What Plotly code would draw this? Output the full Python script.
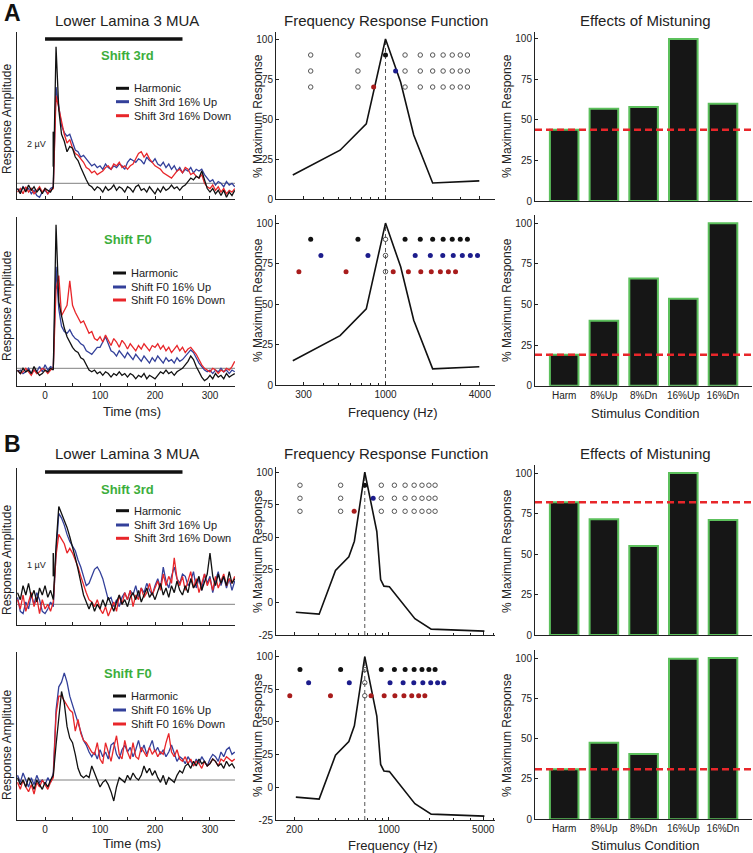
import math
import plotly.graph_objects as go

W, H = 753, 853
FONT = "Arial, Liberation Sans, Helvetica, sans-serif"
INK = "#222222"
BLACK, BLUE, RED = "#111111", "#33409a", "#e8262a"
GREEN = "#3cae3c"

# ---------------- data ----------------
time_ms = list(range(-50, 350, 5))
stim_window_ms = [0, 250]

A_shift3_harmonic = [-0.3,-0.6,-0.2,-0.5,-0.1,-0.4,-0.2,-0.5,-0.3,-0.6,
 -0.3,-0.4,-0.5,-0.2, 7.8, 4.2, 2.8, 2.4, 1.8, 2.1,
 2.0, 1.5, 1.3, 0.9, 0.5, 0.2,-0.1,-0.2,-0.4,-0.2,
 -0.3,-0.5,-0.2,-0.4,-0.3,-0.1,-0.4,-0.2,-0.3,-0.5,
 -0.2,-0.3,-0.5,-0.2,-0.1,-0.4,-0.3,-0.5,-0.2,-0.4,
 -0.6,-0.3,-0.5,-0.2,-0.4,-0.3,-0.1,-0.3,-0.2,-0.4,
 -0.2,-0.1, 0.1, 0.3, 0.2, 0.4, 0.3, 0.7, 0.2,-0.3,
 -0.5,-0.3,-0.6,-0.4,-0.7,-0.4,-0.8,-0.5,-0.7,-0.4]
A_shift3_up = [-0.3,-0.5,-0.2,-0.4,-0.3,-0.6,-0.4,-0.7,-0.8,-0.5,
 -0.4,-0.6,-0.3,-0.2, 5.5, 4.3, 3.3, 2.9, 2.7, 2.8,
 2.3, 1.9, 1.8, 1.5, 1.6, 1.4, 1.2, 1.0, 1.1, 0.9,
 1.0, 0.8, 1.1, 0.9, 0.8, 1.0, 0.9, 1.1, 1.0, 0.8,
 1.2, 1.4, 1.3, 1.2, 1.4, 1.3, 1.1, 1.5, 1.3, 1.2,
 1.4, 1.1, 1.0, 1.2, 0.9, 1.1, 0.8, 1.0, 0.7, 0.9,
 0.6, 0.8, 0.7, 0.9, 0.6, 0.8, 0.7, 0.8, 0.5, 0.3,
 0.1, 0.2,-0.1, 0.1, 0.0,-0.2, 0.1,-0.1, 0.0,-0.2]
A_shift3_down = [-0.5,-0.3,-0.6,-0.2,-0.5,-0.3,-0.6,-0.4,-0.2,-0.5,
 -0.3,-0.6,-0.4,-0.3, 5.0, 4.3, 3.6, 2.8, 2.3, 2.5,
 2.0, 1.7, 1.6, 1.4, 1.2, 0.9, 0.8, 0.6, 0.7, 0.5,
 0.6, 0.7, 0.9, 1.0, 0.8, 1.1, 1.0, 1.2, 0.9, 1.0,
 0.8, 1.0, 1.1, 1.4, 1.7, 1.8, 1.5, 1.7, 1.4, 1.2,
 1.0, 0.9, 0.8, 0.6, 0.5, 0.4, 0.3, 0.5, 0.7, 0.8,
 0.6, 0.9, 0.8, 0.5, 0.6, 0.4, 0.3, 0.5, 0.0,-0.2,
 -0.3,-0.1,-0.4,-0.2,-0.5,-0.3,-0.6,-0.4,-0.5,-0.3]

A_shiftF0_harmonic = [-0.1,-0.3, 0.0,-0.2,-0.1,-0.3, 0.1,-0.2,-0.4,-0.3,
 -0.1,-0.2, 0.0,-0.1, 8.2, 3.8, 3.0, 2.3, 1.8, 1.5,
 1.2, 1.0, 0.9, 0.6, 0.5, 0.2,-0.1,-0.2,-0.1,-0.3,
 -0.2,-0.4,-0.2,-0.3,-0.5,-0.3,-0.4,-0.2,-0.4,-0.3,
 -0.5,-0.3,-0.4,-0.6,-0.4,-0.5,-0.3,-0.6,-0.4,-0.5,
 -0.6,-0.4,-0.2,-0.3,-0.1,-0.3,-0.2,-0.4,-0.2,-0.1,
 0.0, 0.2, 0.4, 0.7, 0.5, 0.1,-0.2,-0.5,-0.7,-0.6,
 -0.4,-0.6,-0.3,-0.5,-0.4,-0.6,-0.3,-0.5,-0.4,-0.3]
A_shiftF0_up = [-0.2,-0.1,-0.3,-0.2, 0.0,-0.3,-0.1,-0.2, 0.1,-0.2,
 0.2,-0.1, 0.1, 0.0, 5.8, 3.4, 2.4, 2.1, 2.0, 2.2,
 1.9, 1.7, 1.6, 1.4, 1.3, 1.0, 0.9, 0.8, 1.0, 1.2,
 1.2, 1.5, 1.8, 1.4, 1.0, 0.9, 0.7, 1.0, 0.8, 0.6,
 0.9, 0.7, 0.5, 0.8, 0.6, 0.4, 0.7, 0.5, 0.3, 0.6,
 0.4, 0.7, 0.5, 0.3, 0.6, 0.4, 0.5, 0.3, 0.6, 0.4,
 0.5, 0.7, 0.9, 1.05, 0.9, 0.6, 0.3, 0.1,-0.1,-0.2,
 -0.1,-0.3,-0.1,-0.2, 0.0,-0.2,-0.1,-0.3,-0.1,-0.2]
A_shiftF0_down = [-0.1,-0.3,-0.2, 0.0,-0.2,-0.4,-0.1,-0.3,-0.2, 0.0,
 -0.1,-0.3,-0.1, 0.0, 4.5, 5.3, 3.0, 3.3, 3.6, 5.0,
 3.6, 3.2, 2.9, 2.6, 2.7, 2.3, 2.0, 2.1, 1.7, 1.6,
 1.8, 1.5, 1.9, 1.6, 1.3, 1.7, 1.5, 1.2, 1.6, 1.4,
 1.1, 1.4, 1.2, 1.0, 1.3, 1.1, 1.4, 1.2, 1.0, 1.3,
 1.2, 1.4, 1.1, 1.3, 1.0, 1.2, 0.9, 1.1, 1.3, 1.0,
 1.2, 0.9, 1.1, 1.2, 1.0, 0.8, 0.5, 0.2, 0.0,-0.1,
 -0.2, 0.0,-0.1,-0.3,-0.1,-0.2, 0.0,-0.1, 0.1, 0.4]

B_shift3_harmonic = [0.5, 0.2, 0.8, 0.4, 0.9, 0.3, 0.6, 0.1, 0.7, 0.4,
 0.8, 0.3, 0.6, 0.2, 2.5, 4.2, 3.9, 3.6, 3.3, 2.9,
 2.5, 2.0, 1.5, 0.9, 0.4, 0.1,-0.2, 0.1,-0.3, 0.0,
 -0.2, 0.2,-0.1, 0.3, 0.0,-0.3, 0.1, 0.4, 0.0, 0.2,
 -0.1, 0.3, 0.5, 0.2, 0.6, 0.1, 0.4, 0.7, 0.3, 0.5,
 0.2, 0.6, 0.9, 0.4, 0.7, 0.3, 0.8, 0.5, 1.0, 0.6,
 0.4, 0.8, 0.5, 1.1, 0.7, 0.9, 1.2, 0.6, 1.0, 1.3,
 2.2, 1.2, 0.8, 1.3, 0.9, 1.2, 0.8, 1.4, 0.9, 1.1]
B_shift3_up = [0.3,-0.3,-0.4, 0.1,-0.2, 0.4, 0.0, 0.5, 0.2,-0.3,
 -0.4,-0.2, 0.1,-0.1, 2.2, 3.9, 3.7, 3.4, 3.0, 2.7,
 2.5, 2.3, 1.9, 1.6, 1.2, 0.8, 0.9, 1.2, 1.5, 1.6,
 1.4, 1.1, 0.6, 0.2, 0.3,-0.1, 0.2,-0.1, 0.3, 0.5,
 0.2, 0.6, 0.4, 0.8, 0.3, 0.7, 0.5, 0.9, 0.6, 0.4,
 0.8, 1.1, 0.7, 1.6, 1.0, 0.7, 1.2, 1.6, 1.1, 0.9,
 1.3, 1.2, 0.8, 1.0, 1.4, 0.7, 1.1, 0.6, 1.3, 0.9,
 1.2, 0.5, 1.0, 1.4, 0.8, 1.2, 0.7, 1.1, 0.6, 1.0]
B_shift3_down = [0.2,-0.2, 0.4,-0.3, 0.1, 0.5,-0.1, 0.3,-0.4, 0.2,
 -0.2, 0.0,-0.3, 0.1, 2.1, 3.0, 2.8, 2.6, 2.2, 2.4,
 2.2, 1.9, 1.6, 1.2, 0.8, 0.5, 0.2, 0.1,-0.1, 0.2,
 -0.2,-0.4,-0.1,-0.5,-0.2, 0.1,-0.3, 0.4, 0.0, 0.5,
 0.2, 0.6,-0.1, 0.4, 0.2, 0.7, 0.3, 0.5, 0.9, 0.4,
 0.7, 1.0, 0.6, 1.3, 0.8, 1.2, 0.9, 2.0, 1.1, 0.8,
 1.2, 0.6, 1.0, 1.4, 0.7, 1.1, 0.5, 0.9, 1.3, 0.8,
 1.1, 0.6, 1.2, 0.7, 1.0, 1.3, 0.8, 1.1, 0.9, 1.2]

B_shiftF0_harmonic = [0.1,-0.2, 0.0,-0.3, 0.1,-0.1,-0.4, 0.0,-0.2,-0.4,
 -0.1,-0.3, 0.0, 0.2, 1.5, 2.8, 3.8, 3.3, 2.3, 1.8,
 1.6, 1.1, 0.5, 0.2, 0.1, 0.2, 0.1, 0.6, 0.3, 0.0,
 -0.3,-0.1, 0.0,-0.2,-0.5,-0.9,-0.3, 0.1, 0.0,-0.1,
 0.2, 0.0, 0.3, 0.1, 0.0, 0.2, 0.6, 0.3, 0.5, 0.2,
 0.4, 0.1,-0.1, 0.2,-0.2, 0.1, 0.0,-0.1, 0.2, 0.4,
 0.3, 0.6, 0.7, 0.5, 0.8, 0.6, 0.9, 0.7, 0.8, 0.6,
 0.7, 0.9, 0.8, 0.6, 0.7, 0.5, 0.8, 0.6, 0.7, 0.5]
B_shiftF0_up = [0.2,-0.1, 0.3, 0.0,-0.3, 0.1,-0.2, 0.2,-0.1, 0.0,
 -0.2, 0.1,-0.1, 0.3, 3.0, 4.0, 4.2, 4.6, 4.2, 3.6,
 3.2, 2.9, 2.5, 2.1, 1.7, 1.5, 1.2, 1.0, 1.2, 0.9,
 1.3, 1.0, 1.2, 0.9, 1.5, 1.6, 1.1, 0.9, 1.3, 1.5,
 1.2, 1.4, 1.0, 1.3, 1.7, 1.2, 1.5, 1.1, 1.4, 1.7,
 1.2, 1.4, 1.1, 1.3, 1.0, 1.2, 1.5, 1.1, 0.8, 1.0,
 0.9, 0.7, 1.0, 0.8, 0.6, 0.9, 0.7, 1.0, 0.8, 0.6,
 0.9, 1.1, 1.0, 0.8, 1.2, 1.0, 1.3, 1.4, 1.1, 1.2]
B_shiftF0_down = [-0.1,-0.4, 0.0,-0.3,-0.5,-0.2,-0.6,-0.1,-0.3, 0.0,
 -0.2,-0.4,-0.1, 0.1, 2.8, 3.6, 3.6, 3.4, 3.2, 3.0,
 2.9, 2.1, 2.6, 2.0, 1.7, 1.6, 1.4, 1.2, 1.1, 1.6,
 0.9, 0.7, 1.6, 1.2, 0.8, 1.4, 1.9, 1.1, 0.9, 1.7,
 1.2, 0.9, 1.6, 1.0, 0.9, 1.4, 1.2, 1.0, 1.4, 1.1,
 1.3, 1.0, 1.2, 1.1, 1.6, 2.0, 1.2, 1.0, 1.3, 0.9,
 0.8, 1.0, 0.7, 0.9, 0.6, 0.8, 0.7, 0.5, 0.8, 0.6,
 0.7, 0.9, 0.8, 0.6, 0.9, 0.8, 1.0, 0.9, 0.8, 0.9]

scale_bar_A_uv = [0.95, 2.95]   # 2 uV
scale_bar_B_uv = [1.2, 2.2]     # 1 uV
scale_bar_t_ms = 15

# frequency response functions
frf_A_freq_hz = [256, 513, 754, 1000, 1250, 1514, 2000, 3970]
frf_A_resp = [15, 30.5, 47, 100, 73, 40, 10, 11.3]
frf_B_freq_hz = [205, 305, 403, 506, 556, 664, 815, 870, 920, 1010, 1560, 2060, 5100]
frf_B_resp = [-7.5, -9, 24.5, 35, 47, 100, 54.5, 17.5, 12.5, 12, -12.5, -20.5, -22]
bf_A_hz, bf_B_hz = 1000, 664

# stimulus components (harmonic complex, shifted 3rd, shifted F0)
harm_A_hz = [333, 667, 1000, 1333, 1667, 2000, 2333, 2667, 3000, 3333]
third_up_A_hz, third_down_A_hz = 1160, 840
f0_up_A_hz = [387, 773, 1547, 1933, 2320, 2707, 3093, 3480, 3867]
f0_down_A_hz = [280, 560, 1120, 1400, 1680, 1960, 2240, 2520, 2800]
harm_B_hz = [220, 440, 664, 880, 1100, 1320, 1540, 1760, 1980, 2200]
third_up_B_hz, third_down_B_hz = 766, 554
f0_up_B_hz = [255, 510, 1021, 1276, 1531, 1786, 2042, 2297, 2552]
f0_down_B_hz = [185, 370, 739, 924, 1109, 1294, 1478, 1663, 1848]
row_harm, row_up, row_down = 90, 80, 70

conditions = ["Harm", "8%Up", "8%Dn", "16%Up", "16%Dn"]
bars_A_3rd = [44, 57, 58, 100, 60]
bars_A_F0 = [19, 40, 66, 53.5, 100]
bars_B_3rd = [82, 71.5, 55, 100, 71]
bars_B_F0 = [31, 47.5, 40.5, 99.5, 100]

# ---------------- layout helpers ----------------
def px(x):
    return x / W

def py(y):
    return 1 - y / H

fig = go.Figure()
layout = dict(template="none", width=W, height=H, margin=dict(l=0, r=0, t=0, b=0, pad=0),
              paper_bgcolor="white", plot_bgcolor="rgba(0,0,0,0)",
              showlegend=False, font=dict(family=FONT, size=10, color=INK))
annotations, shapes = [], []

def axname(n, letter):
    return f"{letter}axis" + ("" if n == 1 else str(n))

def ref(n, letter):
    return letter + ("" if n == 1 else str(n))

def base_axis(x0, x1):
    return dict(domain=[px(x0), px(x1)], showline=True, linecolor=INK, linewidth=1,
                showgrid=False, zeroline=False, automargin=False, ticks="inside", ticklen=3,
                tickcolor=INK, tickwidth=1, tickfont=dict(size=10, color=INK, family=FONT))

def add_axes(n, xr, yr, xdict, ydict):
    xa = base_axis(*xr)
    xa.update(anchor=ref(n, "y"))
    xa.update(xdict)
    ya = base_axis(0, 1)
    ya["domain"] = [py(yr[1]), py(yr[0])]
    ya.update(anchor=ref(n, "x"))
    ya.update(ydict)
    layout[axname(n, "x")] = xa
    layout[axname(n, "y")] = ya

def ann(text, x, y, size=12, xanchor="center", angle=0, color=INK, bold=False):
    if bold:
        text = f"<b>{text}</b>"
    annotations.append(dict(text=text, x=px(x), y=py(y), xref="paper", yref="paper",
                            xanchor=xanchor, yanchor="middle", showarrow=False,
                            textangle=angle, font=dict(size=size, color=color, family=FONT)))

# ---------------- left column: MUA traces ----------------
tick_t = [0, 50, 100, 150, 200, 250, 300]
tick_t_text = ["0", "", "100", "", "200", "", "300"]
label_y = {1: 55, 2: 239, 7: 489, 8: 673}

def trace_panel(n, yr, yrange, series, bottom, label, legend_y, legend_x0, names,
                stim_y=None, scale=None):
    xd = dict(range=[-51, 345.5], tickvals=tick_t, ticktext=tick_t_text,
              showticklabels=bottom)
    yd = dict(range=yrange, ticks="", showticklabels=False)
    add_axes(n, (17, 235), yr, xd, yd)
    shapes.append(dict(type="line", xref=ref(n, "x") + " domain", yref=ref(n, "y"),
                       x0=0, x1=1, y0=0, y1=0, line=dict(color="#808080", width=1),
                       layer="below"))
    for ys, col in zip(series, [BLUE, RED, BLACK]):
        fig.add_trace(go.Scatter(x=time_ms, y=ys, mode="lines",
                                 line=dict(color=col, width=1.3),
                                 xaxis=ref(n, "x"), yaxis=ref(n, "y"),
                                 hoverinfo="skip"))
    ann(label, 128, label_y[n], size=13, color=GREEN, bold=True)
    for yy, col, nm in zip(legend_y, [BLACK, BLUE, RED], names):
        shapes.append(dict(type="line", xref="paper", yref="paper",
                           x0=px(legend_x0), x1=px(legend_x0 + 13), y0=py(yy), y1=py(yy),
                           line=dict(color=col, width=3)))
        ann(nm, legend_x0 + 16, yy, size=11, xanchor="left")
    if stim_y is not None:
        shapes.append(dict(type="line", xref=ref(n, "x"), yref="paper",
                           x0=stim_window_ms[0], x1=stim_window_ms[1],
                           y0=py(stim_y), y1=py(stim_y), line=dict(color=BLACK, width=3.5)))
    if scale is not None:
        vals, txt, ty = scale
        shapes.append(dict(type="line", xref=ref(n, "x"), yref=ref(n, "y"),
                           x0=scale_bar_t_ms, x1=scale_bar_t_ms, y0=vals[0], y1=vals[1],
                           line=dict(color=BLACK, width=1.5)))
        ann(txt, 48, ty, size=9, xanchor="right")

trace_panel(1, (32, 199), [-0.897, 8.646],
            [A_shift3_up, A_shift3_down, A_shift3_harmonic], False, "Shift 3rd",
            [88.3, 101.7, 115.7], 116, ["Harmonic", "Shift 3rd 16% Up", "Shift 3rd 16% Down"],
            stim_y=39, scale=(scale_bar_A_uv, "2 µV", 144))
trace_panel(2, (217, 386), [-1.011, 8.646],
            [A_shiftF0_up, A_shiftF0_down, A_shiftF0_harmonic], True, "Shift F0",
            [273, 287, 300], 113, ["Harmonic", "Shift F0 16% Up", "Shift F0 16% Down"])
trace_panel(7, (468, 625), [-0.888, 5.850],
            [B_shift3_up, B_shift3_down, B_shift3_harmonic], False, "Shift 3rd",
            [510.7, 525, 538.3], 116, ["Harmonic", "Shift 3rd 16% Up", "Shift 3rd 16% Down"],
            stim_y=472, scale=(scale_bar_B_uv, "1 µV", 565))
trace_panel(8, (652, 820), [-1.717, 5.494],
            [B_shiftF0_up, B_shiftF0_down, B_shiftF0_harmonic], True, "Shift F0",
            [696, 710, 724], 113, ["Harmonic", "Shift F0 16% Up", "Shift F0 16% Down"])

# ---------------- middle column: frequency response ----------------
def frf_panel(n, yr, yrange, yticks, xrange_log, xticks, minor, freq, resp, bf,
              rows, bottom):
    xd = dict(type="log", range=xrange_log, tickvals=xticks,
              ticktext=[str(v) for v in xticks], showticklabels=bottom,
              minor=dict(tickvals=minor, ticks="inside", ticklen=2, tickcolor=INK))
    yd = dict(range=yrange, tickvals=yticks, ticktext=[str(v) for v in yticks])
    add_axes(n, (276, 495), yr, xd, yd)
    fig.add_trace(go.Scatter(x=[bf, bf], y=[yrange[0], 100], mode="lines",
                             line=dict(color="#555555", width=1, dash="4px,3px"),
                             xaxis=ref(n, "x"), yaxis=ref(n, "y"), hoverinfo="skip"))
    fig.add_trace(go.Scatter(x=freq, y=resp, mode="lines",
                             line=dict(color=BLACK, width=1.6),
                             xaxis=ref(n, "x"), yaxis=ref(n, "y"), hoverinfo="skip"))
    for xs, yv, kind in rows:
        if kind == "open":
            mk = dict(symbol="circle-open", size=4.5, color="#555555", line=dict(width=1))
        else:
            mk = dict(symbol="circle", size=5, color=kind, line=dict(width=0))
        fig.add_trace(go.Scatter(x=xs, y=[yv] * len(xs), mode="markers", marker=mk,
                                 xaxis=ref(n, "x"), yaxis=ref(n, "y"), hoverinfo="skip"))

DK_BLUE, DK_RED = "#1c1c8c", "#a81c1c"
others_A = [f for f in harm_A_hz if f != bf_A_hz]
others_B = [f for f in harm_B_hz if f != bf_B_hz]
minor_A = [200, 400, 500, 600, 700, 800, 900, 2000, 3000, 5000]
minor_B = [300, 400, 500, 600, 700, 800, 900, 2000, 3000, 4000, 6000]
xr_A = [math.log10(200), math.log10(5000)]
xr_B = [2.165, 3.786]

frf_panel(3, (32, 199), [0, 104.4], [0, 25, 50, 75, 100], xr_A, [300, 1000, 4000], minor_A,
          frf_A_freq_hz, frf_A_resp, bf_A_hz,
          [(others_A, row_harm, "open"), ([bf_A_hz], row_harm, BLACK),
           (others_A, row_up, "open"), ([third_up_A_hz], row_up, DK_BLUE),
           (others_A, row_down, "open"), ([third_down_A_hz], row_down, DK_RED)], False)
frf_panel(4, (215, 385), [0, 105], [0, 25, 50, 75, 100], xr_A, [300, 1000, 4000], minor_A,
          frf_A_freq_hz, frf_A_resp, bf_A_hz,
          [(others_A, row_harm, BLACK), ([bf_A_hz], row_harm, "open"),
           (f0_up_A_hz, row_up, DK_BLUE), ([bf_A_hz], row_up, "open"),
           (f0_down_A_hz, row_down, DK_RED), ([bf_A_hz], row_down, "open")], True)
frf_panel(9, (467, 635), [-25, 104], [-25, 0, 25, 50, 75, 100], xr_B, [200, 1000, 5000], minor_B,
          frf_B_freq_hz, frf_B_resp, bf_B_hz,
          [(others_B, row_harm, "open"), ([bf_B_hz], row_harm, BLACK),
           (others_B, row_up, "open"), ([third_up_B_hz], row_up, DK_BLUE),
           (others_B, row_down, "open"), ([third_down_B_hz], row_down, DK_RED)], False)
frf_panel(10, (650, 820), [-25, 105], [-25, 0, 25, 50, 75, 100], xr_B, [200, 1000, 5000], minor_B,
          frf_B_freq_hz, frf_B_resp, bf_B_hz,
          [(others_B, row_harm, BLACK), ([bf_B_hz], row_harm, "open"),
           (f0_up_B_hz, row_up, DK_BLUE), ([bf_B_hz], row_up, "open"),
           (f0_down_B_hz, row_down, DK_RED), ([bf_B_hz], row_down, "open")], True)

# ---------------- right column: effects of mistuning ----------------
def bar_panel(n, yr, yrange, vals, bottom):
    xd = dict(range=[0.265, 5.73], tickvals=[1, 2, 3, 4, 5], ticktext=conditions,
              showticklabels=bottom, ticks="")
    yd = dict(range=yrange, tickvals=[0, 25, 50, 75, 100],
              ticktext=["0", "25", "50", "75", "100"])
    add_axes(n, (535, 752), yr, xd, yd)
    fig.add_trace(go.Bar(x=[1, 2, 3, 4, 5], y=vals, width=0.72,
                         marker=dict(color="#161616", line=dict(color="#5cc05c", width=2)),
                         xaxis=ref(n, "x"), yaxis=ref(n, "y"), hoverinfo="skip"))
    shapes.append(dict(type="line", xref=ref(n, "x") + " domain", yref=ref(n, "y"),
                       x0=0, x1=1, y0=vals[0], y1=vals[0],
                       line=dict(color=RED, width=2.5, dash="7px,4px")))

bar_panel(5, (32, 201), [0, 104.3], bars_A_3rd, False)
bar_panel(6, (215, 385.7), [0, 105], bars_A_F0, True)
bar_panel(11, (465, 635), [0, 105], bars_B_3rd, False)
bar_panel(12, (650, 819.3), [0, 105], bars_B_F0, True)

# ---------------- text ----------------
ann("A", 2, 13.5, size=23, xanchor="left", color="#111111", bold=True)
ann("B", 2, 444, size=23, xanchor="left", color="#111111", bold=True)
for ty in (20, 453):
    ann("Lower Lamina 3 MUA", 127, ty, size=15)
    ann("Frequency Response Function", 386, ty, size=15)
    ann("Effects of Mistuning", 645, ty, size=15)
for cy in (119, 306, 560, 745):
    ann("Response Amplitude", 7, cy, size=12, angle=-90)
for cy in (116, 300, 551, 735):
    ann("% Maximum Response", 258, cy, size=12, angle=-90)
    ann("% Maximum Response", 507, cy, size=12, angle=-90)
ann("Time (ms)", 132, 411, size=13)
ann("Frequency (Hz)", 393, 412, size=13)
ann("Stimulus Condition", 645, 413, size=13)
ann("Time (ms)", 132, 843, size=13)
ann("Frequency (Hz)", 393, 845, size=13)
ann("Stimulus Condition", 645, 845, size=13)

layout["annotations"] = annotations
layout["shapes"] = shapes
fig.update_layout(**layout)
fig.write_html("out.html",
               config={"displayModeBar": False, "staticPlot": True},
               post_script="document.body.style.margin='0';document.body.style.padding='0';"
                           "document.body.style.overflow='hidden';")
